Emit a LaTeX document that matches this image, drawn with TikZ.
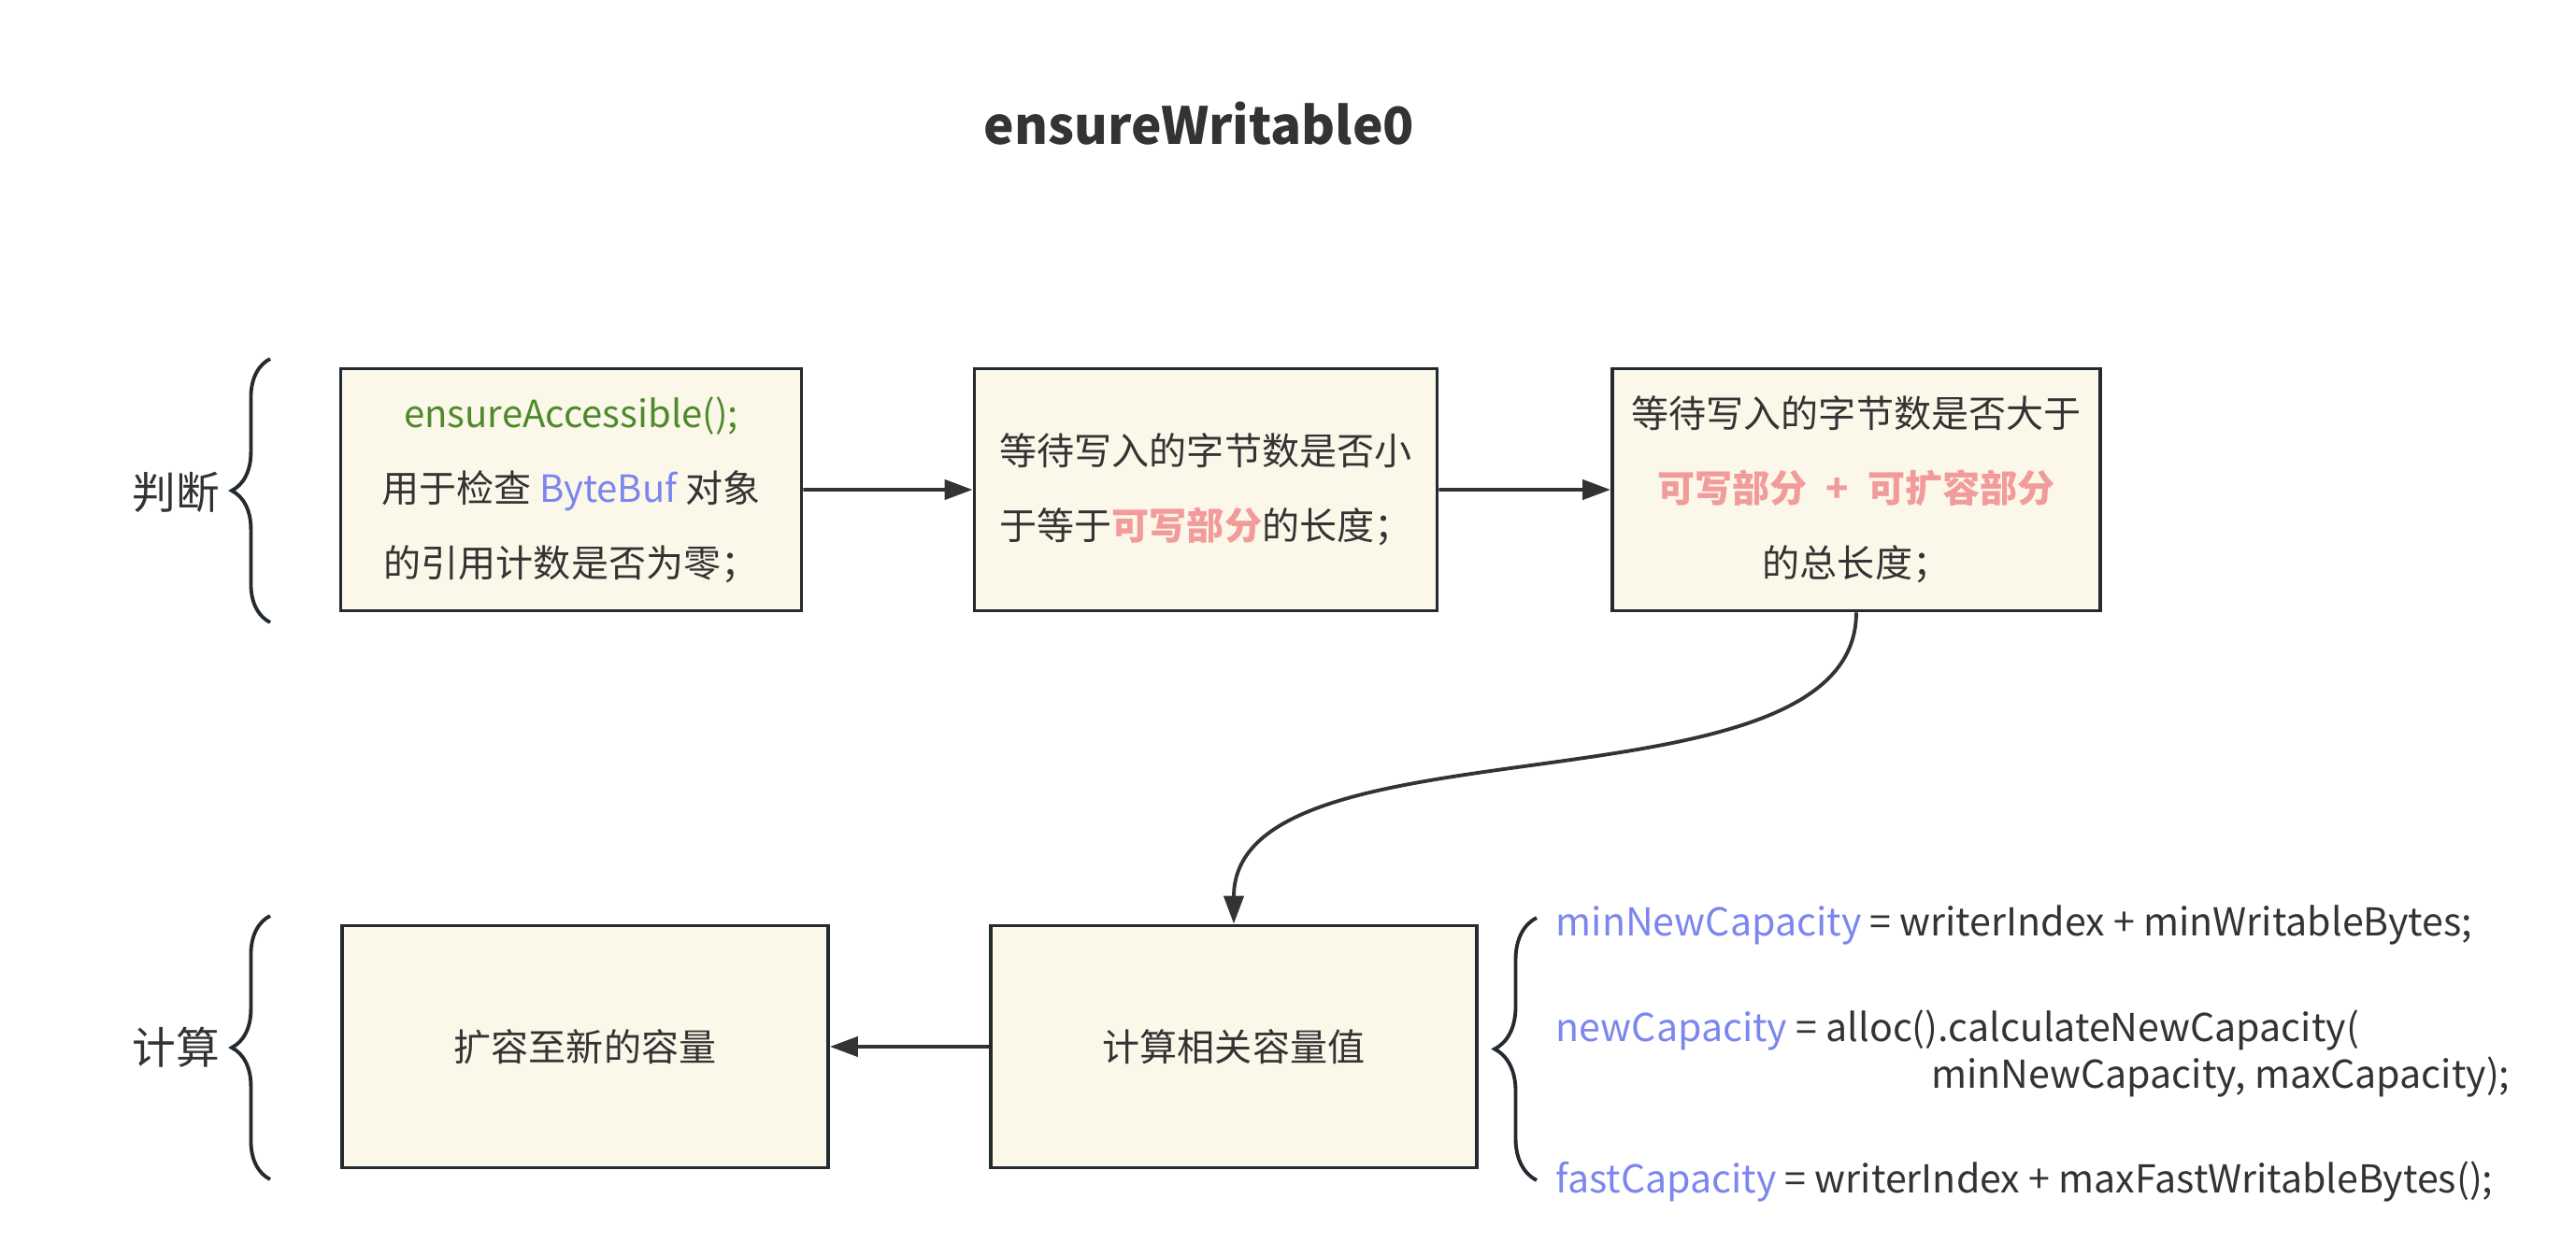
\documentclass[tikz,border=0pt]{standalone}
\usepackage{fontspec}
\setmainfont{Noto Sans CJK SC}
\usetikzlibrary{arrows.meta,decorations.pathreplacing}
\definecolor{boxfill}{HTML}{FBF8EA}
\definecolor{boxline}{HTML}{232A30}
\definecolor{txtdark}{HTML}{333333}
\definecolor{codegreen}{HTML}{4E8A2A}
\definecolor{codeblue}{HTML}{7B86EE}
\definecolor{hlpink}{HTML}{F29B9B}
\newcommand\headfont{\fontsize{15.6}{19}\selectfont\bfseries}
\newcommand\stepfont{\fontsize{11.4}{22.8}\selectfont}
\newcommand\sidefont{\fontsize{13.3}{16}\selectfont}
\newcommand\codefont{\fontsize{11.7}{14}\selectfont}

\begin{document}
\begin{tikzpicture}[scale=0.2]
\tikzstyle{every node}+=[inner sep=0pt, text=txtdark]
\tikzstyle{stepbox}=[draw=boxline, fill=boxfill, line width=1.1pt, minimum height=2.59cm, align=center, font=\stepfont]
\tikzstyle{flow}=[draw=txtdark, line width=1.1pt, -{Triangle[length=8.5pt,width=6pt]}]
\tikzstyle{bracket}=[draw=boxline, line width=1.1pt, decorate, decoration={brace, amplitude=11.7pt}]
\tikzstyle{codeline}=[font=\codefont, text height=2.2ex, text depth=0.7ex]
\useasboundingbox (0,0) rectangle (137.8,-67.15);
% title
\node (title) at (64.15,-6.6) {\headfont ensureWritable0};
% first row
\node [stepbox, minimum width=4.93cm] (access) at (30.55,-26.2)
  {\textcolor{codegreen}{ensureAccessible();}\\
   用于检查 \textcolor{codeblue}{ByteBuf} 对象\\
   的引用计数是否为零；};
\node [stepbox, minimum width=4.95cm] (lesseq) at (64.5,-26.2)
  {等待写入的字节数是否小\\
   于等于\textcolor{hlpink}{\bfseries 可写部分}的长度；};
\node [stepbox, minimum width=5.22cm] (greater) at (99.3,-26.2)
  {等待写入的字节数是否大于\\
   \textcolor{hlpink}{\bfseries 可写部分\enspace+\enspace 可扩容部分}\\
   的总长度；};
% second row
\node [stepbox, minimum width=5.2cm] (expand) at (31.3,-56.0) {扩容至新的容量};
\node [stepbox, minimum width=5.2cm] (calc) at (66.0,-56.0) {计算相关容量值};
% row labels
\node [font=\sidefont] (judge) at (9.4,-26.35) {判断};
\node [font=\sidefont] (compute) at (9.4,-56.05) {计算};
\draw [bracket] (14.45,-33.3) -- (14.45,-19.2);
\draw [bracket] (14.45,-63.1) -- (14.45,-49.0);
\draw [bracket, decoration={amplitude=12.8pt}] (82.2,-63.15) -- (82.2,-49.1);
% code
\node [codeline, anchor=west] (minnew) at (83.2,-49.35)
  {\textcolor{codeblue}{minNewCapacity} = writerIndex + minWritableBytes;};
\node [codeline, anchor=west] (newcap) at (83.2,-55.0)
  {\textcolor{codeblue}{newCapacity} = alloc().calculateNewCapacity(};
\node [codeline, anchor=east] (newcapargs) at (134.3,-57.5)
  {minNewCapacity, maxCapacity);};
\node [codeline, anchor=west] (fastcap) at (83.2,-63.1)
  {\textcolor{codeblue}{fastCapacity} = writerIndex + maxFastWritableBytes();};
% connectors
\draw [flow] (access) -- (lesseq);
\draw [flow] (lesseq) -- (greater);
\draw [flow] (greater.south) .. controls (99.3,-44) and (66.0,-38) .. (calc.north);
\draw [flow] (calc) -- (expand);
\end{tikzpicture}
\end{document}
